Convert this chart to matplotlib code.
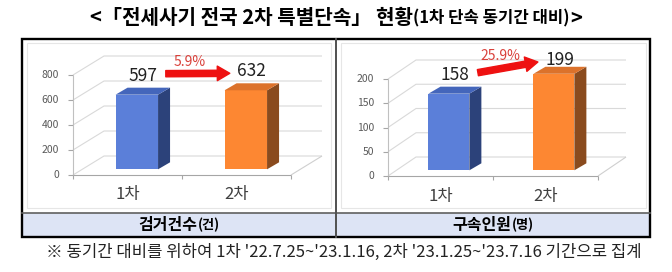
import matplotlib
matplotlib.use('Agg')
import matplotlib.pyplot as plt
from matplotlib.patches import Polygon, Rectangle, FancyArrowPatch

plt.rcParams['font.family'] = ['Noto Sans CJK KR', 'DejaVu Sans']

# ---- data ----
title_main = '<「전세사기 전국 2차 특별단속」 현황'
title_sub = '(1차 단속 동기간 대비)'
title_end = '>'
footnote = "※ 동기간 대비를 위하여 1차 '22.7.25~'23.1.16, 2차 '23.1.25~'23.7.16 기간으로 집계"

rounds = ['1차', '2차']
cases = [597, 632]
cases_change = '5.9%'
cases_ticks = [0, 200, 400, 600, 800]
detained = [158, 199]
detained_change = '25.9%'
detained_ticks = [0, 50, 100, 150, 200]
headers = [('검거건수', '(건)'), ('구속인원', '(명)')]

front_cols = ['#5b7fd9', '#fd8732']
top_cols = ['#4466bb', '#dc722b']
side_cols = ['#2c427a', '#8a4b1e']

W, H = 672, 272
fig = plt.figure(figsize=(W / 100, H / 100), dpi=100)
base = fig.add_axes([0, 0, 1, 1])
base.set_xlim(0, W)
base.set_ylim(H, 0)
base.axis('off')
renderer = fig.canvas.get_renderer()


def runs_centered(xc, y, runs, color='black'):
    texts, widths = [], []
    for s, size, weight in runs:
        t = base.text(0, y, s, fontsize=size, fontweight=weight,
                      va='center', ha='left', color=color)
        widths.append(t.get_window_extent(renderer).width)
        texts.append(t)
    x = xc - sum(widths) / 2
    for t, w in zip(texts, widths):
        t.set_x(x)
        x += w


# title
runs_centered(336, 18, [(title_main, 14.5, 'bold'), (title_sub, 12, 'bold'),
                        (title_end, 14.5, 'bold')])

# table
base.add_patch(Rectangle((22, 213), 628, 24, fc='#dde4f5', ec='none'))
base.plot([22, 650], [213, 213], color='#606060', lw=1.2)
base.plot([336, 336], [39, 237], color='#505050', lw=1.4)
base.add_patch(Rectangle((22, 39), 628, 198, fill=False, ec='black', lw=1.7))
for x0, x1 in [(27, 331), (341, 646)]:
    base.add_patch(Rectangle((x0, 43), x1 - x0, 165, fill=False,
                             ec='#e6e6e6', lw=0.8))
for xc, (name, unit) in zip([179, 493], headers):
    runs_centered(xc, 225, [(name, 11.5, 'bold'), (unit, 9.5, 'bold')])

base.text(46, 252, footnote, fontsize=12, va='center', ha='left',
          color='#222222')


def draw_chart(x0, x1, y0, ytop, ymax, values, ticks, change, back):
    ax = fig.add_axes([x0 / W, 1 - y0 / H, (x1 - x0) / W, (y0 - ytop) / H])
    ax.set_xlim(0, 2)
    ax.set_ylim(0, ymax)
    ax.axis('off')
    sx = 2 / (x1 - x0)
    sy = ymax / (y0 - ytop)
    bx, by = back[0] * sx, back[1] * sy
    grid = '#d9d9d9'
    kw = dict(clip_on=False, solid_capstyle='butt')
    for v in ticks:
        ax.plot([0, bx, 2 + bx], [v, v + by, v + by], color=grid, lw=0.8, **kw)
        ax.plot([-5 * sx, 0], [v, v], color='#a6a6a6', lw=0.8, **kw)
        ax.annotate(str(v), (0, v), xytext=(-14, 0), textcoords='offset pixels',
                    ha='right', va='center', fontsize=7.5, color='#595959')
    ax.plot([0, 0], [0, ticks[-1]], color='#c0c0c0', lw=0.8, **kw)
    ax.plot([0, 2], [0, 0], color='#a6a6a6', lw=0.8, **kw)
    ax.plot([2, 2 + bx], [0, by], color='#cfcfcf', lw=0.8, **kw)
    for x in [0, 1, 2]:
        ax.plot([x, x], [0, -4 * sy], color='#a6a6a6', lw=0.8, **kw)

    fx, fy = 0.3 * bx, 0.3 * by
    dx, dy = 12 * sx, 7 * sy
    w = 0.39
    centers = [0.5, 1.5]
    ax.bar([c + fx for c in centers], values, w, bottom=fy, color=front_cols,
           clip_on=False, zorder=3)
    label_pos = []
    for i, (c, v) in enumerate(zip(centers, values)):
        xl, xr = c + fx - w / 2, c + fx + w / 2
        yt = fy + v
        ax.add_patch(Polygon([(xr, fy), (xr, yt), (xr + dx, yt + dy),
                              (xr + dx, fy + dy)], fc=side_cols[i],
                             ec='none', clip_on=False, zorder=3))
        ax.add_patch(Polygon([(xl, yt), (xr, yt), (xr + dx, yt + dy),
                              (xl + dx, yt + dy)], fc=top_cols[i],
                             ec='none', clip_on=False, zorder=3))
        lx = c + fx + dx / 2
        ly = min(yt + 19 * sy, ticks[-1] + by)
        label_pos.append((lx, ly))
        ax.text(lx, ly, str(v), ha='center', va='center', fontsize=12.5,
                color='#222222', zorder=4)
        ax.annotate(rounds[i], (c, 0), xytext=(0, -20),
                    textcoords='offset pixels', ha='center', va='center',
                    fontsize=12, color='#404040')
    (ax1, ay1), (ax2, ay2) = label_pos
    start = (ax1 + 23 * sx, ay1 + 2 * sy)
    end = (ax2 - 22 * sx, ay2 - 2 * sy)
    ax.add_patch(FancyArrowPatch(start, end, mutation_scale=10,
                                 arrowstyle='simple,head_length=0.9,head_width=1.05,tail_width=0.45',
                                 color='#ee1111', shrinkA=0, shrinkB=0,
                                 clip_on=False, zorder=5))
    mx, my = (start[0] + end[0]) / 2, (start[1] + end[1]) / 2
    ax.text(mx - 8 * sx, my + 11 * sy, change, ha='center', va='center',
            fontsize=10, color='#d9403a', zorder=5)


draw_chart(73, 291, 175, 75, 800, cases, cases_ticks, cases_change, (31, 19))
draw_chart(388, 598, 176, 79, 200, detained, detained_ticks, detained_change,
           (28, 19))

fig.savefig('out.png', dpi=100)
